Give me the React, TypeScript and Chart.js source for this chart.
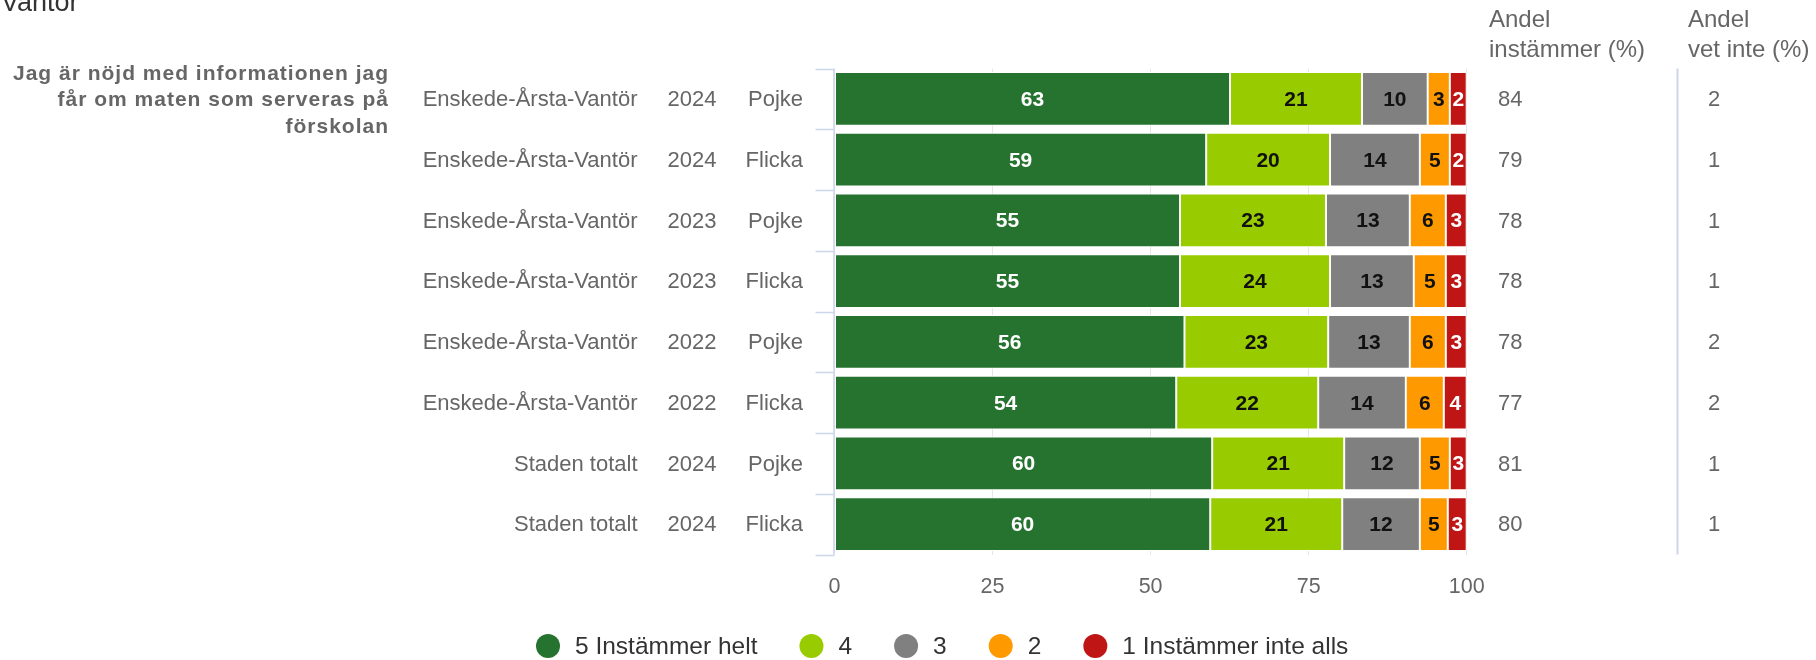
import React, { useEffect, useRef } from 'react';
import { Chart, registerables } from 'chart.js';

Chart.register(...registerables);

// ---------- data ----------
const titleText = 'Vantör';
const questionLines = ['Jag är nöjd med informationen jag', 'får om maten som serveras på', 'förskolan'];

const areas = [
  'Enskede-Årsta-Vantör', 'Enskede-Årsta-Vantör', 'Enskede-Årsta-Vantör', 'Enskede-Årsta-Vantör',
  'Enskede-Årsta-Vantör', 'Enskede-Årsta-Vantör', 'Staden totalt', 'Staden totalt',
];
const years = ['2024', '2024', '2023', '2023', '2022', '2022', '2024', '2024'];
const genders = ['Pojke', 'Flicka', 'Pojke', 'Flicka', 'Pojke', 'Flicka', 'Pojke', 'Flicka'];

const seriesNames = ['5 Instämmer helt', '4', '3', '2', '1 Instämmer inte alls'];
const seriesColors = ['#267330', '#99cc00', '#808080', '#ff9900', '#bf1515'];
const labelColors = ['#ffffff', '#111111', '#111111', '#111111', '#ffffff'];

// bar lengths (share of answers, %)
const val5 = [62.56, 58.79, 54.65, 54.65, 55.36, 54.05, 59.74, 59.43];
const val4 = [20.88, 19.59, 23.09, 23.73, 22.73, 22.46, 20.88, 20.88];
const val3 = [10.39, 14.21, 13.26, 13.25, 12.91, 13.86, 11.97, 12.28];
const val2 = [3.5, 4.74, 5.7, 5.07, 5.7, 6.01, 4.74, 4.42];
const val1 = [2.67, 2.67, 3.3, 3.3, 3.3, 3.62, 2.67, 2.99];

// printed labels in the bars
const lbl5 = [63, 59, 55, 55, 56, 54, 60, 60];
const lbl4 = [21, 20, 23, 24, 23, 22, 21, 21];
const lbl3 = [10, 14, 13, 13, 13, 14, 12, 12];
const lbl2 = [3, 5, 6, 5, 6, 6, 5, 5];
const lbl1 = [2, 2, 3, 3, 3, 4, 3, 3];

const andelInstammer = [84, 79, 78, 78, 78, 77, 81, 80];
const andelVetInte = [2, 1, 1, 1, 2, 2, 1, 1];

const xTicks = [0, 25, 50, 75, 100];

const FONT = '"Liberation Sans", Arial, sans-serif';

const seriesValues = [val5, val4, val3, val2, val1];
const seriesLabels = [lbl5, lbl4, lbl3, lbl2, lbl1];

const overlayPlugin = {
  id: 'overlay',
  afterDatasetsDraw(chart: any) {
    const { ctx } = chart;
    ctx.save();
    ctx.font = `bold 21px ${FONT}`;
    ctx.textAlign = 'center';
    ctx.textBaseline = 'middle';
    chart.data.datasets.forEach((ds: any, di: number) => {
      const meta = chart.getDatasetMeta(di);
      meta.data.forEach((el: any, i: number) => {
        const p = el.getProps(['x', 'y', 'base'], true);
        ctx.fillStyle = labelColors[di];
        ctx.fillText(String(seriesLabels[di][i]), (p.x + p.base) / 2, p.y + 1);
      });
    });
    ctx.restore();
  },
  afterDraw(chart: any) {
    const { ctx, chartArea } = chart;
    const y = chart.scales.y;
    const n = areas.length;
    const band = n > 1 ? y.getPixelForValue(1) - y.getPixelForValue(0) : 0;
    ctx.save();

    // left axis line and ticks
    ctx.strokeStyle = '#ccd6eb';
    ctx.lineWidth = 1.5;
    ctx.beginPath();
    ctx.moveTo(chartArea.left - 0.5, y.getPixelForValue(0) - band / 2);
    ctx.lineTo(chartArea.left - 0.5, y.getPixelForValue(n - 1) + band / 2);
    for (let i = 0; i <= n; i++) {
      const py = Math.round(y.getPixelForValue(i) - band / 2) + 0.5;
      ctx.moveTo(chartArea.left - 19, py);
      ctx.lineTo(chartArea.left, py);
    }
    ctx.stroke();

    // separator before "vet inte" column
    ctx.lineWidth = 2;
    ctx.beginPath();
    ctx.moveTo(1677.5, chartArea.top);
    ctx.lineTo(1677.5, chartArea.bottom);
    ctx.stroke();

    // title (cut off at top)
    ctx.fillStyle = '#333333';
    ctx.font = `27px ${FONT}`;
    ctx.textAlign = 'left';
    ctx.textBaseline = 'alphabetic';
    ctx.fillText(titleText, 1, 11);

    // question text
    ctx.fillStyle = '#666666';
    ctx.font = `bold 21px ${FONT}`;
    ctx.textAlign = 'right';
    ctx.textBaseline = 'middle';
    (ctx as any).letterSpacing = '1px';
    questionLines.forEach((line, i) => {
      ctx.fillText(line, 389, 74 + i * 26.5);
    });
    (ctx as any).letterSpacing = '0px';

    // category columns
    ctx.font = `22px ${FONT}`;
    ctx.fillStyle = '#666666';
    for (let i = 0; i < n; i++) {
      const py = y.getPixelForValue(i) + 1;
      ctx.textAlign = 'right';
      ctx.fillText(areas[i], 637.5, py);
      ctx.textAlign = 'center';
      ctx.fillText(years[i], 692, py);
      ctx.textAlign = 'right';
      ctx.fillText(genders[i], 803, py);
      ctx.textAlign = 'left';
      ctx.fillText(String(andelInstammer[i]), 1498, py);
      ctx.fillText(String(andelVetInte[i]), 1708, py);
    }

    // column headers
    ctx.font = `24px ${FONT}`;
    ctx.textAlign = 'left';
    ctx.fillText('Andel', 1489, 20);
    ctx.fillText('instämmer (%)', 1489, 50);
    ctx.fillText('Andel', 1688, 20);
    ctx.fillText('vet inte (%)', 1688, 50);

    // legend
    ctx.font = `24.5px ${FONT}`;
    ctx.textBaseline = 'middle';
    let lx = 536;
    const ly = 646;
    seriesNames.forEach((name, i) => {
      ctx.fillStyle = seriesColors[i];
      ctx.beginPath();
      ctx.arc(lx + 12, ly, 12, 0, Math.PI * 2);
      ctx.fill();
      ctx.fillStyle = '#333333';
      ctx.textAlign = 'left';
      const tx = lx + 39;
      ctx.fillText(name, tx, ly + 1);
      lx = tx + ctx.measureText(name).width + 42;
    });

    ctx.restore();
  },
};

export default function App() {
  const canvasRef = useRef<HTMLCanvasElement | null>(null);

  useEffect(() => {
    const canvas = canvasRef.current;
    if (!canvas) return;
    const labels = areas.map((a, i) => `${a} ${years[i]} ${genders[i]}`);
    const chart = new Chart(canvas, {
      type: 'bar',
      data: {
        labels,
        datasets: seriesNames.map((name, i) => ({
          label: name,
          data: seriesValues[i],
          backgroundColor: seriesColors[i],
          borderColor: '#ffffff',
          borderWidth: 1,
          borderSkipped: false,
          barPercentage: 0.885,
          categoryPercentage: 1,
        })),
      },
      options: {
        indexAxis: 'y',
        responsive: false,
        animation: false,
        devicePixelRatio: 1,
        layout: { padding: { left: 834.5, right: 349.3, top: 68.6, bottom: 40 } },
        plugins: {
          legend: { display: false },
          tooltip: { enabled: false },
          title: { display: false },
        },
        scales: {
          x: {
            stacked: true,
            min: 0,
            max: 100,
            afterBuildTicks: (scale: any) => {
              scale.ticks = xTicks.map((v) => ({ value: v }));
            },
            grid: { color: '#e6e6e6', lineWidth: 1, drawTicks: false },
            border: { display: false },
            ticks: {
              color: '#666666',
              font: { family: FONT, size: 21.5 },
              padding: 19.8,
              maxRotation: 0,
              autoSkip: false,
            },
          },
          y: {
            stacked: true,
            display: false,
          },
        },
      },
      plugins: [overlayPlugin],
    } as any);
    return () => chart.destroy();
  }, []);

  return (
    <canvas
      ref={canvasRef}
      width={1816}
      height={660}
      style={{ position: 'fixed', left: 0, top: 0, width: 1816, height: 660 }}
    />
  );
}
